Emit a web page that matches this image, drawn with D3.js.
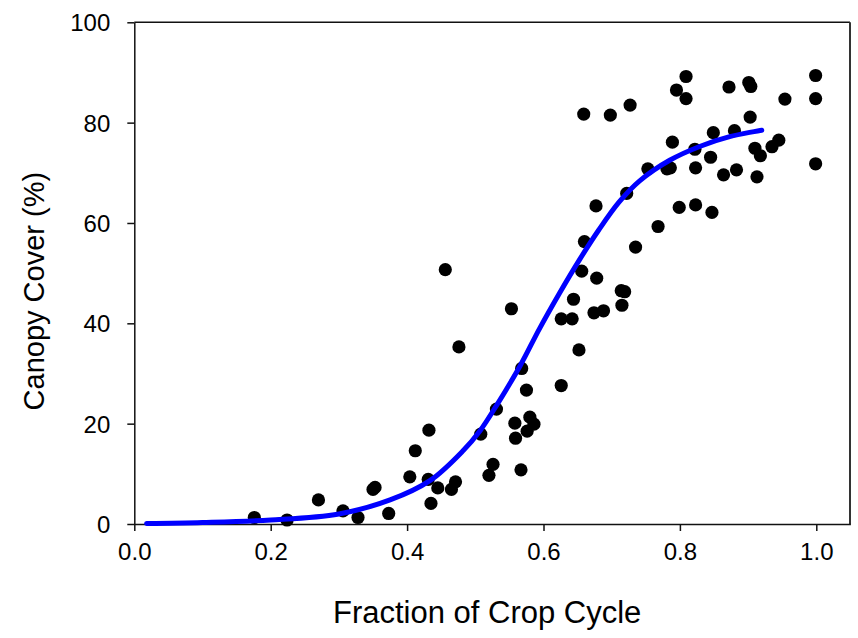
<!DOCTYPE html>
<html><head><meta charset="utf-8">
<script src="https://cdn.jsdelivr.net/npm/d3@7"></script>
<style>body{margin:0;background:#fff}svg{display:block}text{font-family:Arial,"Liberation Sans",sans-serif}</style>
</head><body>
<script>
// Observed points (fraction of crop cycle, canopy cover %)
const obsX = [0.176,0.224,0.270,0.306,0.328,0.350,0.353,0.373,0.404,0.412,0.432,0.431,0.445,0.435,0.471,0.465,
  0.508,0.526,0.520,0.531,0.558,0.559,0.567,0.575,0.580,0.586,0.576,0.626,
  0.456,0.553,0.476,0.568,0.677,0.660,0.656,0.678,0.644,0.626,0.642,0.674,0.688,0.652,
  0.799,0.823,0.847,0.768,0.735,0.714,0.719,0.715,
  0.809,0.795,0.809,0.872,0.901,0.904,0.999,0.999,0.954,0.698,0.727,0.659,0.903,
  0.789,0.849,0.880,0.822,0.845,0.910,0.918,0.935,0.945,0.999,0.753,0.781,0.786,0.823,0.864,0.883,0.913,0.722];
const obsY = [1.3,0.8,4.8,2.6,1.3,6.9,7.3,2.1,9.4,14.6,18.7,8.9,7.2,4.1,8.4,6.9,
  17.9,11.9,9.7,22.9,20.1,17.1,10.8,26.7,21.3,19.9,18.5,27.6,
  50.7,42.9,35.3,31.0,63.4,56.3,50.4,49.0,44.8,40.9,40.9,42.1,42.5,34.7,
  63.1,63.6,62.1,59.3,55.2,46.5,46.3,43.6,
  89.2,86.5,84.8,87.1,88.0,87.2,89.4,84.8,84.7,81.5,83.5,81.7,81.1,
  76.1,78.0,78.4,74.7,73.1,74.9,73.4,75.2,76.5,71.8,70.8,70.8,71.0,71.0,69.6,70.6,69.2,65.9];
// Fitted curve, points
const fitX = [0.018,0.10,0.20,0.30,0.375,0.434,0.482,0.507,0.531,0.566,0.594,0.623,0.652,0.681,0.711,0.741,0.785,0.830,0.873,0.920];
const fitY = [0.1,0.3,0.8,2.0,4.8,8.7,14.6,18.6,23.6,31.6,38.9,45.9,52.5,58.6,64.2,68.4,72.5,75.3,77.2,78.5];
const xTicks = [0.0,0.2,0.4,0.6,0.8,1.0];
const yTicks = [0,20,40,60,80,100];
const xLabel = "Fraction of Crop Cycle";
const yLabel = "Canopy Cover (%)";

const W=858,H=638;
const L=134.3,R=850,T=22.3,B=524;
const svg=d3.select("body").append("svg").attr("width",W).attr("height",H);
const x=d3.scaleLinear().domain([0,1.05]).range([L,L+682*1.05]);
const y=d3.scaleLinear().domain([0,100]).range([B,T]);

const frameColor="#111";
svg.append("line").attr("x1",L).attr("x2",R).attr("y1",T).attr("y2",T).attr("stroke",frameColor).attr("stroke-width",1.5);
svg.append("line").attr("x1",R).attr("x2",R).attr("y1",T).attr("y2",B).attr("stroke","#333").attr("stroke-width",2);

const gx=svg.append("g").attr("transform",`translate(0,${B})`)
  .call(d3.axisBottom(x).tickValues(xTicks).tickFormat(d3.format(".1f")).tickSize(7).tickSizeOuter(0));
const gy=svg.append("g").attr("transform",`translate(${L},0)`)
  .call(d3.axisLeft(y).tickValues(yTicks).tickFormat(d3.format("d")).tickSize(7).tickSizeOuter(0));
[gx,gy].forEach(g=>{
  g.select(".domain").attr("stroke",frameColor).attr("stroke-width",1.5);
  g.selectAll(".tick line").attr("stroke",frameColor).attr("stroke-width",1.5);
  g.selectAll(".tick text").attr("fill","#000").style("font-size","24px").style("font-family","Arial, 'Liberation Sans', sans-serif");
});
gx.selectAll(".tick text").attr("dy","0").attr("y",36);
gy.selectAll(".tick text").attr("x",-24).attr("dy","0.36em");

const pts=obsX.map((v,i)=>[v,obsY[i]]);
svg.append("g").selectAll("circle").data(pts).join("circle")
  .attr("cx",d=>x(d[0])).attr("cy",d=>y(d[1])).attr("r",6.6).attr("fill","#000");

const fit=fitX.map((v,i)=>[v,fitY[i]]);
svg.append("path").datum(fit)
  .attr("d",d3.line().x(d=>x(d[0])).y(d=>y(d[1])).curve(d3.curveCatmullRom.alpha(0.5)))
  .attr("fill","none").attr("stroke","#0000ff").attr("stroke-width",5).attr("stroke-linecap","round");

svg.append("text").attr("x",(L+R)/2-5).attr("y",623).attr("text-anchor","middle")
  .style("font-size","31px").text(xLabel);
svg.append("text").attr("transform",`translate(44,${(T+B)/2+18}) rotate(-90)`).attr("text-anchor","middle")
  .style("font-size","29px").text(yLabel);
</script>
</body></html>
